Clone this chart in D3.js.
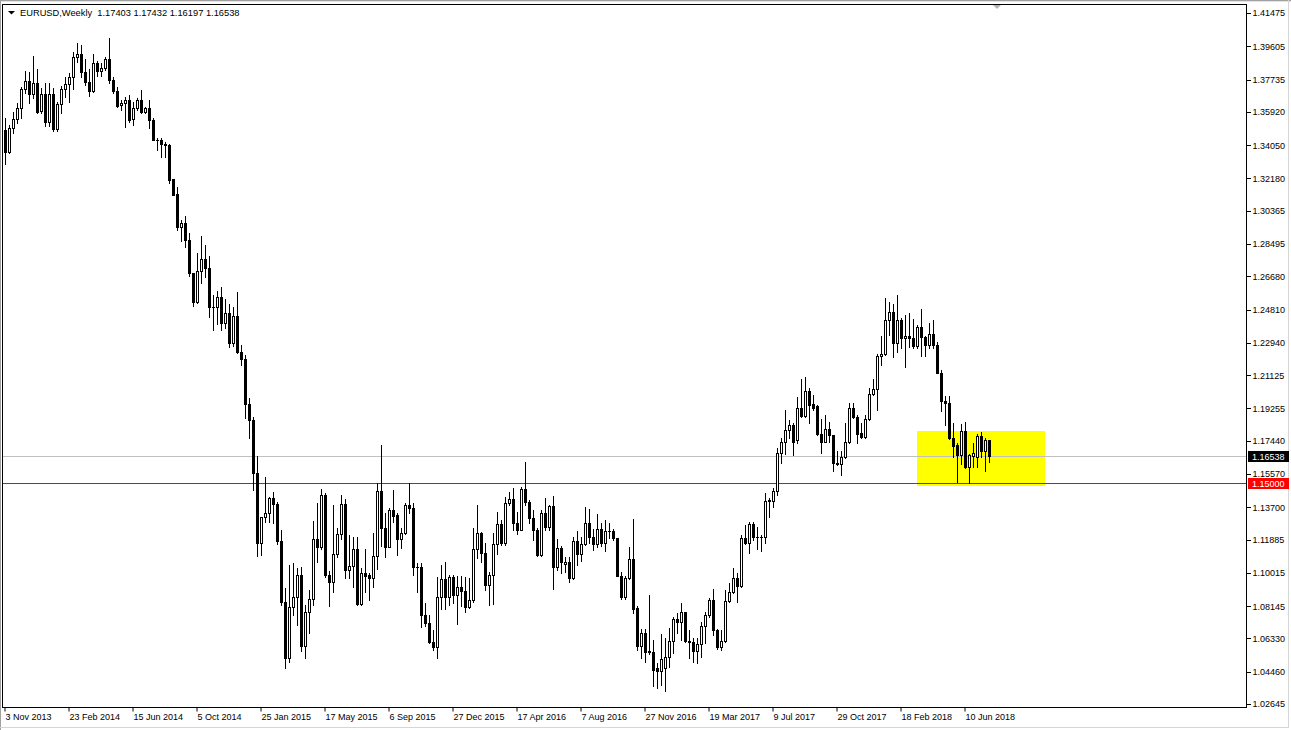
<!DOCTYPE html>
<html><head><meta charset="utf-8">
<script src="https://cdn.jsdelivr.net/npm/d3@7"></script>
<style>
html,body{margin:0;padding:0;background:#fff;overflow:hidden;}
svg{display:block;font-family:"Liberation Sans",Arial,sans-serif;}
</style></head><body>
<svg id="c" width="1291" height="730"></svg>
<script>
const symbolTitle = "EURUSD,Weekly";
const lastQuote = ["1.17403", "1.17432", "1.16197", "1.16538"];
const firstWeek = "2013-11-03";

const open = [
1.3485,1.3363,1.3494,1.3546,1.3606,1.3713,1.3760,1.3685,1.3747,1.3591,
1.3685,1.3527,1.3685,1.3488,1.3629,1.3713,1.3741,1.3784,1.3893,1.3911,
1.3808,1.3752,1.3704,1.3862,1.3815,1.3831,1.3883,1.3765,1.3705,1.3623,
1.3634,1.3653,1.3544,1.3606,1.3653,1.3587,1.3606,1.3541,1.3430,1.3428,
1.3404,1.3400,1.3207,1.3123,1.2941,1.2964,1.2866,1.2679,1.2520,1.2694,
1.2758,1.2707,1.2487,1.2487,1.2548,1.2398,1.2454,1.2286,1.2439,1.2239,
1.2196,1.1945,1.1855,1.1555,1.1165,1.1308,1.1330,1.1415,1.1383,1.1177,
1.0834,1.0516,1.0806,1.0862,1.0984,1.0587,1.0778,1.0847,1.1184,1.1139,
1.1433,1.0984,1.0946,1.1102,1.1214,1.1383,1.1012,1.1034,1.1128,1.0821,
1.0997,1.0984,1.0965,1.1091,1.1456,1.1246,1.1143,1.1349,1.1321,1.1184,
1.1222,1.1377,1.1358,1.1031,1.1031,1.0759,1.0716,1.0609,1.0581,1.0858,
1.0959,1.0862,1.0974,1.0871,1.0914,1.0896,1.0806,1.0843,1.1128,1.1218,
1.1106,1.0928,1.0984,1.1156,1.1269,1.1162,1.1387,1.1411,1.1278,1.1237,
1.1465,1.1396,1.1302,1.1237,1.1096,1.1334,1.1252,1.1372,1.1027,1.1134,
1.1047,1.1059,1.0969,1.1175,1.1100,1.1156,1.1274,1.1196,1.1160,1.1242,
1.1162,1.1231,1.1233,1.1190,1.0980,1.0862,1.0965,1.1072,1.0797,1.0587,
1.0656,1.0549,1.0549,1.0459,1.0446,1.0459,1.0521,1.0613,1.0735,1.0722,
1.0774,1.0613,1.0610,1.0559,1.0594,1.0697,1.0759,1.0843,1.0675,1.0577,
1.0613,1.0840,1.0890,1.0965,1.0924,1.1190,1.1162,1.1269,1.1199,1.1197,
1.1200,1.1401,1.1401,1.1458,1.1671,1.1729,1.1799,1.1827,1.1745,1.1924,
1.1877,1.2018,1.1945,1.1933,1.1776,1.1733,1.1802,1.1771,1.1611,1.1606,
1.1649,1.1729,1.1924,1.1870,1.1784,1.1757,1.1859,1.1999,1.2027,1.2214,
1.2225,1.2417,1.2460,1.2286,1.2417,1.2314,1.2327,1.2314,1.2273,1.2376,
1.2323,1.2276,1.2338,1.2276,1.2121,1.1963,1.1950,1.1752,1.1714,1.1660,
1.1793,1.1589,1.1650,1.1649,1.1765,1.1682,1.17403];

const high = [
1.3550,1.3513,1.3587,1.3634,1.3724,1.3816,1.3812,1.3900,1.3825,1.3719,
1.3747,1.3747,1.3719,1.3644,1.3732,1.3784,1.3803,1.3925,1.3971,1.3962,
1.3882,1.3827,1.3912,1.3872,1.3860,1.3896,1.3999,1.3780,1.3724,1.3653,
1.3672,1.3681,1.3644,1.3662,1.3709,1.3616,1.3653,1.3550,1.3441,1.3437,
1.3419,1.3406,1.3210,1.3166,1.2979,1.3001,1.2904,1.2680,1.2791,1.2889,
1.2838,1.2776,1.2557,1.2582,1.2600,1.2533,1.2507,1.2492,1.2576,1.2276,
1.2220,1.1976,1.1874,1.1652,1.1310,1.1536,1.1424,1.1450,1.1396,1.1237,
1.0909,1.1040,1.1049,1.1021,1.1031,1.0815,1.0899,1.1287,1.1390,1.1465,
1.1443,1.1008,1.1377,1.1246,1.1433,1.1409,1.1208,1.1196,1.1196,1.1021,
1.1128,1.0993,1.1218,1.1499,1.1714,1.1330,1.1358,1.1461,1.1330,1.1246,
1.1386,1.1499,1.1390,1.1053,1.1049,1.0824,1.0759,1.0675,1.0974,1.1040,
1.1058,1.0984,1.0984,1.0978,1.0978,1.0974,1.0965,1.1246,1.1377,1.1227,
1.1162,1.1003,1.1218,1.1340,1.1293,1.1424,1.1452,1.1471,1.1340,1.1476,
1.1617,1.1405,1.1349,1.1246,1.1349,1.1415,1.1378,1.1428,1.1186,1.1147,
1.1087,1.1087,1.1196,1.1233,1.1196,1.1364,1.1355,1.1240,1.1325,1.1274,
1.1293,1.1274,1.1242,1.1190,1.0998,1.0980,1.1139,1.1297,1.0810,1.0678,
1.0678,1.0871,1.0620,1.0491,1.0652,1.0628,1.0684,1.0750,1.0768,1.0825,
1.0778,1.0675,1.0628,1.0628,1.0721,1.0778,1.0852,1.0903,1.0680,1.0675,
1.0900,1.0937,1.1021,1.0993,1.1209,1.1265,1.1280,1.1284,1.1255,1.1209,
1.1443,1.1415,1.1471,1.1696,1.1752,1.1911,1.1855,1.1840,1.1986,1.2083,
1.2098,1.2033,1.1995,1.1939,1.1859,1.1883,1.1846,1.1771,1.1682,1.1682,
1.1840,1.1952,1.1948,1.1883,1.1840,1.1883,1.2033,1.2083,1.2225,1.2327,
1.2538,1.2520,1.2507,1.2557,1.2426,1.2445,1.2454,1.2421,1.2389,1.2477,
1.2327,1.2402,1.2417,1.2295,1.2136,1.1990,1.1991,1.1836,1.1724,1.1832,
1.1845,1.1665,1.1724,1.1776,1.1789,1.1752,1.17432];

const low = [
1.3295,1.3355,1.3466,1.3522,1.3550,1.3690,1.3634,1.3662,1.3578,1.3578,
1.3507,1.3505,1.3481,1.3481,1.3578,1.3672,1.3644,1.3713,1.3868,1.3784,
1.3737,1.3676,1.3700,1.3788,1.3788,1.3822,1.3747,1.3690,1.3612,1.3597,
1.3503,1.3531,1.3512,1.3597,1.3582,1.3578,1.3494,1.3428,1.3372,1.3335,
1.3335,1.3189,1.3119,1.2923,1.2860,1.2825,1.2664,1.2495,1.2510,1.2627,
1.2660,1.2435,1.2361,1.2394,1.2361,1.2370,1.2267,1.2271,1.2229,1.2164,
1.1864,1.1752,1.1461,1.1091,1.1098,1.1284,1.1284,1.1274,1.1158,1.0815,
1.0459,1.0497,1.0759,1.0703,1.0559,1.0516,1.0656,1.0815,1.1059,1.1128,
1.0971,1.0810,1.0890,1.1083,1.1184,1.0965,1.0965,1.0918,1.0815,1.0815,
1.0890,1.0843,1.0918,1.1016,1.1147,1.1083,1.1143,1.1284,1.1096,1.1134,
1.1214,1.1330,1.0984,1.0890,1.0693,1.0697,1.0600,1.0562,1.0516,1.0791,
1.0791,1.0815,1.0824,1.0708,1.0810,1.0778,1.0797,1.0834,1.1077,1.1059,
1.0900,1.0815,1.0822,1.1100,1.1152,1.1152,1.1377,1.1237,1.1214,1.1237,
1.1377,1.1274,1.1181,1.1091,1.1091,1.1237,1.1235,1.0903,1.1012,1.0997,
1.0999,1.0946,1.0960,1.1040,1.1063,1.1152,1.1162,1.1123,1.1139,1.1149,
1.1121,1.1190,1.1180,1.0978,1.0849,1.0850,1.0961,1.0768,1.0562,1.0515,
1.0497,1.0540,1.0362,1.0347,1.0366,1.0334,1.0469,1.0544,1.0656,1.0619,
1.0609,1.0515,1.0497,1.0488,1.0525,1.0600,1.0750,1.0647,1.0568,1.0562,
1.0610,1.0830,1.0881,1.0834,1.0918,1.1158,1.1106,1.1181,1.1128,1.1119,
1.1162,1.1308,1.1368,1.1433,1.1611,1.1664,1.1752,1.1658,1.1727,1.1873,
1.1870,1.1836,1.1911,1.1771,1.1668,1.1729,1.1729,1.1570,1.1602,1.1546,
1.1639,1.1723,1.1864,1.1724,1.1752,1.1752,1.1855,1.1995,1.1911,1.2164,
1.2220,1.2335,1.2207,1.2239,1.2258,1.2154,1.2267,1.2258,1.2258,1.2214,
1.2214,1.2258,1.2258,1.2117,1.1907,1.1825,1.1746,1.1649,1.1508,1.1605,
1.1587,1.1503,1.1589,1.1589,1.1649,1.1570,1.16197];

const close = [
1.3363,1.3498,1.3546,1.3606,1.3713,1.3760,1.3685,1.3750,1.3587,1.3685,
1.3527,1.3685,1.3488,1.3629,1.3713,1.3741,1.3784,1.3893,1.3911,1.3808,
1.3752,1.3704,1.3859,1.3815,1.3831,1.3881,1.3765,1.3706,1.3619,1.3634,
1.3653,1.3541,1.3606,1.3653,1.3587,1.3606,1.3541,1.3430,1.3426,1.3404,
1.3402,1.3204,1.3121,1.2941,1.2964,1.2866,1.2679,1.2520,1.2694,1.2758,
1.2707,1.2488,1.2490,1.2548,1.2398,1.2454,1.2286,1.2439,1.2239,1.2196,
1.1945,1.1855,1.1555,1.1165,1.1308,1.1330,1.1415,1.1383,1.1177,1.0834,
1.0516,1.0806,1.0862,1.0984,1.0587,1.0778,1.0847,1.1184,1.1139,1.1433,
1.0984,1.0946,1.1102,1.1214,1.1383,1.1012,1.1034,1.1128,1.0821,1.0997,
1.0978,1.0965,1.1091,1.1456,1.1246,1.1143,1.1349,1.1315,1.1184,1.1222,
1.1377,1.1358,1.1031,1.1028,1.0759,1.0716,1.0609,1.0581,1.0858,1.0959,
1.0862,1.0974,1.0871,1.0914,1.0896,1.0806,1.0843,1.1128,1.1218,1.1106,
1.0928,1.0984,1.1156,1.1269,1.1162,1.1387,1.1411,1.1278,1.1237,1.1465,
1.1396,1.1302,1.1237,1.1096,1.1334,1.1252,1.1372,1.1027,1.1134,1.1059,
1.1059,1.0969,1.1175,1.1100,1.1156,1.1274,1.1196,1.1160,1.1242,1.1162,
1.1231,1.1233,1.1190,1.0980,1.0862,1.0965,1.1072,1.0791,1.0587,1.0656,
1.0549,1.0556,1.0450,1.0446,1.0510,1.0521,1.0613,1.0735,1.0722,1.0774,
1.0613,1.0610,1.0559,1.0594,1.0697,1.0759,1.0843,1.0675,1.0577,1.0613,
1.0840,1.0890,1.0965,1.0924,1.1190,1.1162,1.1269,1.1199,1.1197,1.1200,
1.1401,1.1403,1.1458,1.1671,1.1729,1.1799,1.1827,1.1729,1.1924,1.1877,
1.2018,1.1939,1.1921,1.1776,1.1733,1.1802,1.1771,1.1611,1.1608,1.1649,
1.1729,1.1924,1.1870,1.1776,1.1757,1.1859,1.1999,1.2027,1.2214,1.2225,
1.2417,1.2460,1.2286,1.2417,1.2314,1.2327,1.2314,1.2273,1.2376,1.2323,
1.2276,1.2338,1.2276,1.2121,1.1963,1.1948,1.1752,1.1711,1.1660,1.1793,
1.1589,1.1658,1.1668,1.1765,1.1682,1.1742,1.16538];

const priceTicks = [1.41475,1.39605,1.37735,1.35920,1.34050,1.32180,1.30365,1.28495,1.26680,1.24810,
  1.22940,1.21125,1.19255,1.17440,1.15570,1.13700,1.11885,1.10015,1.08145,1.06330,1.04460,1.02645];
const timeLabels = ["3 Nov 2013","23 Feb 2014","15 Jun 2014","5 Oct 2014","25 Jan 2015","17 May 2015",
  "6 Sep 2015","27 Dec 2015","17 Apr 2016","7 Aug 2016","27 Nov 2016","19 Mar 2017","9 Jul 2017",
  "29 Oct 2017","18 Feb 2018","10 Jun 2018"];
const bidPrice = 1.16538;
const levelPrice = 1.15000;
const zonePrices = [1.1793, 1.1486];
const zoneDates = ["2018-03-18", "2018-10-28"];

// ---------- layout ----------
const W = 1291, H = 730;
const frame = {l: 2, t: 4, r: 1246, b: 707};
const barStep = 4, firstX = 5;
const svg = d3.select("#c");
const parse = d3.utcParse("%Y-%m-%d");
const fmtDate = d3.utcFormat("%-d %b %Y");
const start = parse(firstWeek);
const dates = open.map((_, i) => d3.utcWeek.offset(start, i));
const bars = dates.map((d, i) => ({d, o: open[i], h: high[i], l: low[i], c: close[i]}));

const x = d3.scaleUtc()
  .domain([dates[0], dates[dates.length - 1]])
  .range([firstX, firstX + barStep * (dates.length - 1)]);
const y = d3.scaleLinear()
  .domain([priceTicks[priceTicks.length - 1], priceTicks[0]])
  .range([703, 12]);
const px = d => Math.round(x(d));
const py = v => Math.round(y(v));

// window borders
svg.append("rect").attr("width", W).attr("height", H).attr("fill", "#fff");
svg.append("line").attr("x1", 0).attr("x2", W).attr("y1", 0.5).attr("y2", 0.5).attr("stroke", "#a0a0a0");
svg.append("line").attr("x1", 0).attr("x2", W).attr("y1", 1.5).attr("y2", 1.5).attr("stroke", "#e3e3e3");
svg.append("line").attr("x1", 0.5).attr("x2", 0.5).attr("y1", 0).attr("y2", H).attr("stroke", "#a0a0a0");
svg.append("line").attr("x1", 1288.5).attr("x2", 1288.5).attr("y1", 0).attr("y2", 728).attr("stroke", "#d6d6d6");
svg.append("line").attr("x1", 0).attr("x2", 1289).attr("y1", 727.5).attr("y2", 727.5).attr("stroke", "#d6d6d6");

// yellow zone (background object)
const z0 = px(parse(zoneDates[0])), z1 = px(parse(zoneDates[1]));
const zt = py(zonePrices[0]), zb = py(zonePrices[1]);
svg.append("rect").attr("x", z0).attr("y", zt).attr("width", z1 - z0).attr("height", zb - zt)
  .attr("fill", "#ffff00");

// horizontal lines
svg.append("line").attr("x1", frame.l + 1).attr("x2", frame.r).attr("y1", py(bidPrice) + 0.5).attr("y2", py(bidPrice) + 0.5)
  .attr("stroke", "#c0c0c0");
svg.append("line").attr("x1", frame.l + 1).attr("x2", frame.r).attr("y1", py(levelPrice) + 0.5).attr("y2", py(levelPrice) + 0.5)
  .attr("stroke", "#ff0000");

// candles
const g = svg.append("g");
bars.forEach(b => {
  const cx = px(b.d);
  g.append("line").attr("x1", cx + 0.5).attr("x2", cx + 0.5)
    .attr("y1", py(b.h)).attr("y2", py(b.l) + 1).attr("stroke", "#000").attr("stroke-width", 1);
  const top = py(Math.max(b.o, b.c)), bot = py(Math.min(b.o, b.c));
  if (bot - top < 1) {
    g.append("rect").attr("x", cx - 1).attr("y", top).attr("width", 3).attr("height", 1).attr("fill", "#000");
  } else if (b.c >= b.o) {
    g.append("rect").attr("x", cx - 0.5).attr("y", top + 0.5).attr("width", 2).attr("height", bot - top)
      .attr("fill", "#fff").attr("stroke", "#000").attr("stroke-width", 1);
  } else {
    g.append("rect").attr("x", cx - 1).attr("y", top).attr("width", 3).attr("height", bot - top + 1).attr("fill", "#000");
  }
});

// frame
svg.append("rect").attr("x", frame.l + 0.5).attr("y", frame.t + 0.5)
  .attr("width", frame.r - frame.l).attr("height", frame.b - frame.t)
  .attr("fill", "none").attr("stroke", "#000");

// price axis
const yAxis = d3.axisRight(y).tickValues(priceTicks).tickFormat(d3.format(".5f")).tickSize(4).tickPadding(2);
const ya = svg.append("g").attr("transform", `translate(${frame.r + 0.5},1)`).call(yAxis);
ya.select(".domain").remove();
ya.selectAll(".tick line").attr("stroke", "#000").attr("shape-rendering", "crispEdges");
ya.selectAll(".tick text").attr("font-size", 9).attr("font-family", "Liberation Sans, Arial, sans-serif").attr("fill", "#000");

// time axis
const tickDates = dates.filter(d => timeLabels.includes(fmtDate(d)));
const xAxis = d3.axisBottom(x).tickValues(tickDates).tickFormat(fmtDate).tickSize(4).tickPadding(3);
const xa = svg.append("g").attr("transform", `translate(0,${frame.b + 0.5})`).call(xAxis);
xa.select(".domain").remove();
xa.selectAll(".tick line").attr("stroke", "#000").attr("transform", "translate(-0.5,0)");
xa.selectAll(".tick text").attr("text-anchor", "start").attr("x", 0).attr("y", 6).attr("dy", "0.71em")
  .attr("font-size", 9).attr("font-family", "Liberation Sans, Arial, sans-serif").attr("fill", "#000");

// price labels for lines
function priceTag(v, bg) {
  const yy = py(v) + 0.5;
  svg.append("rect").attr("x", frame.r + 2).attr("y", yy - 5.5).attr("width", 41).attr("height", 11).attr("fill", bg);
  svg.append("text").attr("x", frame.r + 6).attr("y", yy + 3.3).attr("font-size", 9).attr("fill", "#fff")
    .text(d3.format(".5f")(v));
}
priceTag(bidPrice, "#000");
priceTag(levelPrice, "#ff0000");

// header
svg.append("path").attr("d", "M8,11 L15,11 L11.5,14.5 Z").attr("fill", "#000");
svg.append("text").attr("x", 20).attr("y", 16).attr("font-size", 9.3).attr("fill", "#000")
  .attr("xml:space", "preserve")
  .text(symbolTitle + "  " + lastQuote.join(" "));

// chart shift marker
const sx = px(dates[dates.length - 1]) + 2 * barStep;
svg.append("path").attr("d", `M${sx - 4},5 L${sx + 4},5 L${sx},9 Z`).attr("fill", "#b4b4b4");
</script>
</body></html>
